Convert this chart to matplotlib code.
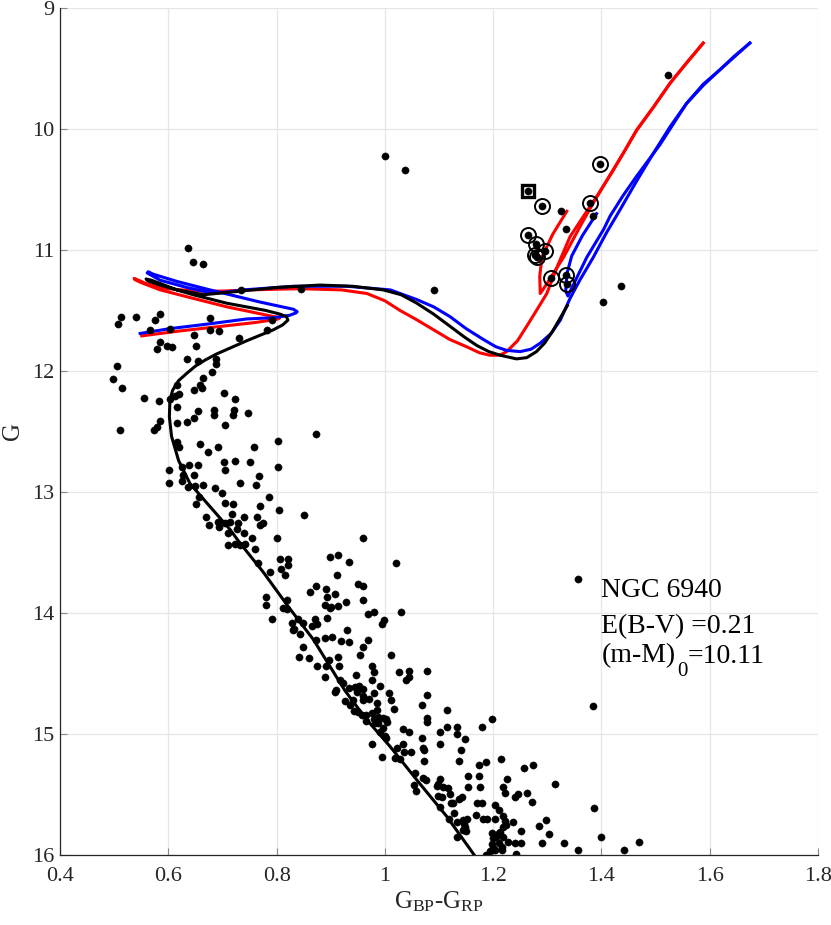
import numpy as np
import matplotlib
matplotlib.use('Agg')
import matplotlib.pyplot as plt

plt.rcParams['font.family'] = ['Liberation Serif', 'DejaVu Serif']
plt.rcParams['mathtext.fontset'] = 'custom'
plt.rcParams['mathtext.rm'] = 'Liberation Serif'
plt.rcParams['mathtext.it'] = 'Liberation Serif:italic'

# cluster members (BP-RP, G)
stars = np.array([
    (0.637,10.98),(0.645,11.10),(0.665,11.12),(0.734,11.33),(0.845,11.32),
    (0.513,11.55),(0.507,11.61),(0.540,11.55),(0.585,11.53),(0.575,11.58),(0.566,11.66),
    (0.604,11.65),(0.677,11.56),(0.677,11.66),(0.694,11.67),(0.648,11.70),(0.791,11.58),
    (0.782,11.66),(0.731,11.73),(0.585,11.76),(0.598,11.79),(0.607,11.80),(0.580,11.82),
    (0.652,11.79),(0.634,11.90),(0.655,11.92),(0.688,11.90),(0.688,11.94),(0.680,12.01),
    (0.505,11.96),(0.497,12.07),(0.515,12.14),(0.665,12.06),(0.616,12.12),(0.659,12.12),
    (0.648,12.16),(0.662,12.14),(0.619,12.19),(0.702,12.18),(0.723,12.23),(0.556,12.22),
    (0.583,12.25),(0.603,12.23),(0.612,12.21),(0.616,12.30),(0.655,12.33),(0.685,12.32),
    (0.685,12.36),(0.722,12.32),(0.720,12.36),(0.748,12.35),(0.634,12.42),(0.648,12.39),
    (0.616,12.43),(0.705,12.45),(0.585,12.41),(0.510,12.49),
    (0.579,12.46),(0.574,12.49),(0.616,12.59),(0.620,12.63),(0.659,12.60),(0.674,12.67),
    (0.691,12.63),(0.759,12.63),(0.802,12.58),(0.702,12.75),(0.705,12.82),(0.723,12.74),
    (0.751,12.75),(0.802,12.79),(0.601,12.82),(0.601,12.93),(0.625,12.79),(0.639,12.78),
    (0.655,12.78),(0.648,12.86),(0.628,12.86),(0.625,12.91),(0.637,12.96),(0.649,12.95),
    (0.665,12.94),(0.686,12.97),(0.700,13.01),(0.705,13.09),(0.719,13.10),(0.732,12.93),
    (0.762,12.94),(0.768,12.87),(0.786,13.04),(0.769,13.12),(0.805,13.15),(0.657,13.04),
    (0.651,13.10),(0.669,13.21),(0.675,13.27),(0.692,13.25),(0.694,13.29),(0.717,13.18),
    (0.714,13.25),(0.729,13.26),(0.740,13.21),(0.764,13.21),(0.769,13.27),(0.775,13.26),
    (0.705,13.26),(0.711,13.34),(0.726,13.31),(0.740,13.34),(0.754,13.38),(0.711,13.44),
    (0.723,13.43),(0.732,13.44),(0.742,13.43),(0.760,13.47),(0.800,13.38),(0.806,13.55),
    (0.822,13.55),
    (0.873,12.52),(0.851,13.19),(0.959,13.38),(0.899,13.54),(0.913,13.52),(0.934,13.58),
    (1.021,13.59),(0.911,13.69),(0.822,13.60),(0.809,13.64),(0.816,13.69),(0.788,13.66),
    (0.766,13.59),(0.872,13.78),(0.862,13.83),(0.891,13.80),(0.893,13.87),(0.908,13.84),
    (0.889,13.93),(0.900,13.95),(0.914,13.94),(0.928,13.91),(0.959,13.78),(0.951,13.76),
    (0.959,13.89),(1.030,13.99),(0.979,13.99),(0.968,14.01),(0.999,14.06),(0.994,14.09),
    (0.930,14.14),(0.894,14.04),(0.871,14.05),(0.865,14.11),(0.874,14.09),(0.820,13.89),
    (0.780,13.87),(0.780,13.93),(0.812,13.96),(0.819,13.97),(0.792,14.05),(0.828,14.08),
    (0.840,14.05),(0.849,14.08),(0.832,14.13),(0.843,14.17),(0.889,14.21),(0.902,14.20),
    (0.919,14.23),(0.933,14.24),(0.969,14.22),(0.959,14.28),(0.848,14.28),(0.872,14.22),
    (0.831,14.14),
    (0.899,13.96),(1.011,14.35),(0.954,14.35),(0.913,14.36),(0.896,14.39),(0.891,14.44),
    (0.916,14.44),(0.875,14.44),(0.889,14.53),(0.842,14.36),(0.859,14.37),(0.946,14.51),
    (0.976,14.44),(0.979,14.49),(0.976,14.55),(1.026,14.49),(1.044,14.48),(1.045,14.53),
    (1.039,14.55),(1.077,14.48),(0.991,14.60),(0.960,14.63),(0.979,14.66),(0.945,14.61),
    (0.948,14.65),(0.917,14.55),(0.923,14.58),(0.910,14.64),(0.926,14.73),(0.959,14.72),
    (0.971,14.71),(0.985,14.74),(1.008,14.66),(1.011,14.72),(1.016,14.79),(1.077,14.68),
    (1.068,14.76),(0.943,14.81),(0.951,14.82),(0.966,14.84),(0.976,14.83),(0.997,14.87),
    (0.953,14.60),(0.908,14.65),(0.933,14.62),(0.942,14.72),(0.960,14.69),(0.936,14.76),
    (0.988,14.86),(0.982,14.91),(1.003,14.88),(0.997,14.95),(1.000,15.02),(1.070,15.12),
    (0.957,14.84),(0.966,14.89),(0.979,14.88),(0.985,14.80),(0.988,14.91),(1.004,14.90),
    (0.991,14.98),(1.002,15.03),(0.976,15.08),(0.994,15.19),(1.114,14.80),(1.078,14.87),
    (1.078,14.90),(1.033,14.96),(1.045,14.98),(1.068,15.03),(1.101,14.98),(1.114,14.94),
    (1.133,14.94),(1.133,15.00),(1.148,15.04),(1.101,15.08),(1.180,14.94),(1.197,14.88),
    (1.034,15.08),(1.022,15.12),(1.019,15.20),(1.028,15.21),(1.036,15.15),(1.048,15.15),
    (1.073,15.13),(1.073,15.22),(1.141,15.13),(1.136,15.22),(1.174,15.26),(1.186,15.23),
    (1.215,15.21),(1.056,15.32),(1.071,15.36),(1.076,15.38),(1.053,15.42),(1.058,15.47),
    (1.096,15.43),(1.102,15.37),(1.107,15.44),(1.117,15.45),(1.154,15.35),(1.174,15.35),
    (1.154,15.44),(1.176,15.44),(1.225,15.37),(1.219,15.44),(1.240,15.52),(1.099,15.51),
    (1.105,15.52),(1.120,15.50),(1.126,15.57),(1.136,15.54),(1.142,15.52),(1.102,15.60),
    (1.128,15.65),(1.119,15.70),(1.133,15.73),(1.148,15.77),(1.151,15.70),(1.134,15.85),
    (1.170,15.57),(1.179,15.57),(1.168,15.67),(1.182,15.70),(1.188,15.70),(1.203,15.59),
    (1.211,15.63),(1.219,15.68),(1.203,15.70),(1.237,15.73),(1.197,15.82),(1.213,15.81),
    (1.219,15.77),(1.223,15.75),(1.206,15.85),(1.228,15.89),(1.240,15.90),(1.216,15.93),
    (1.197,15.91),(1.200,15.94),(1.194,15.97),(1.243,15.99),(1.187,16.00),
    (1.099,15.41),(1.122,15.57),(1.147,15.74),(1.144,15.79),(1.150,15.80),(1.221,15.72),
    (1.222,15.49),(1.200,15.86),(1.210,15.82),(1.219,15.85),(1.210,15.90),(1.216,15.96),
    (1.203,15.96),(1.251,15.90),(1.145,15.71),
    (1.385,14.77),(1.257,15.28),(1.273,15.26),(1.314,15.41),(1.245,15.50),(1.263,15.49),
    (1.271,15.56),(1.251,15.80),(1.285,15.76),(1.298,15.71),(1.304,15.83),(1.290,15.90),
    (1.331,15.90),(1.357,15.96),(1.387,15.61),(1.399,15.85),(1.442,15.96),(1.470,15.89),
    (1.357,13.72),(1.091,11.33),(1.000,10.22),(1.037,10.34),(1.523,9.55),
    (1.325,10.68),(1.385,10.72),(1.334,10.83),(1.436,11.30),(1.402,11.43),
    (1.397,10.29),(1.291,10.64),(1.379,10.61),(1.265,10.88),(1.279,10.95),(1.296,11.01),
    (1.277,11.04),(1.281,11.06),(1.306,11.23),(1.334,11.21),(1.336,11.28),(1.265,10.51),
])

# red giants flagged with circles, one with a square
circ_x = [1.397, 1.291, 1.379, 1.265, 1.279, 1.296, 1.277, 1.281, 1.306, 1.334, 1.336]
circ_y = [10.29, 10.64, 10.61, 10.88, 10.95, 11.01, 11.04, 11.06, 11.23, 11.21, 11.28]
sq_x = [1.265]
sq_y = [10.51]

# isochrones
blk_x = [1.165, 1.114, 1.059, 1.009, 0.966, 0.926, 0.868, 0.822, 0.775, 0.732, 0.714,
         0.671, 0.640, 0.619, 0.606, 0.602, 0.603, 0.608, 0.619, 0.634, 0.650, 0.668,
         0.689, 0.745, 0.794, 0.811, 0.821, 0.818, 0.806, 0.780, 0.708, 0.646, 0.585,
         0.562, 0.559, 0.569, 0.616, 0.665, 0.734, 0.800, 0.880, 0.940, 0.997, 1.030,
         1.059, 1.090, 1.120, 1.147, 1.170, 1.192, 1.213, 1.243, 1.262, 1.280, 1.295,
         1.310, 1.337]
blk_y = [16.00, 15.68, 15.38, 15.10, 14.88, 14.64, 14.22, 13.95, 13.66, 13.42, 13.31,
         13.09, 12.93, 12.74, 12.54, 12.38, 12.24, 12.16, 12.08, 12.02, 11.96, 11.91,
         11.86, 11.75, 11.66, 11.62, 11.58, 11.55, 11.53, 11.50, 11.44, 11.37, 11.29,
         11.255, 11.24, 11.25, 11.33, 11.37, 11.34, 11.31, 11.29, 11.30, 11.33, 11.37,
         11.44, 11.53, 11.63, 11.72, 11.79, 11.84, 11.87, 11.90, 11.89, 11.84, 11.77,
         11.67, 11.46]

blu_x = [0.548, 0.603, 0.677, 0.745, 0.794, 0.824, 0.836, 0.838, 0.831, 0.769, 0.677,
         0.616, 0.572, 0.563, 0.561, 0.585, 0.634, 0.683, 0.739, 0.831, 0.930, 1.010,
         1.059, 1.090, 1.120, 1.150, 1.182, 1.205, 1.225, 1.250, 1.270, 1.287, 1.307,
         1.324, 1.342, 1.360, 1.385, 1.409, 1.434, 1.465, 1.496, 1.527, 1.557, 1.588,
         1.619, 1.645, 1.674]
blu_y = [11.69, 11.65, 11.61, 11.57, 11.56, 11.54, 11.52, 11.51, 11.49, 11.43, 11.33,
         11.26, 11.20, 11.18, 11.19, 11.25, 11.31, 11.36, 11.33, 11.30, 11.30, 11.33,
         11.41, 11.47, 11.55, 11.65, 11.74, 11.80, 11.83, 11.84, 11.82, 11.77, 11.69,
         11.58, 11.40, 11.25, 11.06, 10.86, 10.67, 10.43, 10.20, 9.98, 9.79, 9.63,
         9.51, 9.40, 9.29]
blu_hb_x = [1.391, 1.365, 1.345, 1.336, 1.334, 1.338, 1.350, 1.373, 1.404, 1.416, 1.440,
            1.465, 1.508, 1.557, 1.588, 1.619, 1.674]
blu_hb_y = [10.70, 10.88, 11.05, 11.20, 11.34, 11.38, 11.27, 11.06, 10.83, 10.72, 10.55,
            10.39, 10.13, 9.79, 9.64, 9.51, 9.29]

red_x = [0.551, 0.620, 0.700, 0.760, 0.790, 0.803, 0.806, 0.794, 0.708, 0.646, 0.585,
         0.550, 0.538, 0.537, 0.545, 0.560, 0.600, 0.650, 0.700, 0.750, 0.843, 0.920,
         0.967, 1.000, 1.028, 1.060, 1.090, 1.120, 1.151, 1.175, 1.194, 1.212, 1.225,
         1.245, 1.262, 1.280, 1.299, 1.320, 1.342, 1.367, 1.391, 1.422, 1.443, 1.465,
         1.496, 1.527, 1.558, 1.588]
red_y = [11.71, 11.67, 11.63, 11.60, 11.58, 11.57, 11.56, 11.55, 11.47, 11.40, 11.33,
         11.27, 11.245, 11.235, 11.25, 11.28, 11.32, 11.34, 11.34, 11.33, 11.32, 11.33,
         11.36, 11.42, 11.50, 11.58, 11.66, 11.74, 11.80, 11.85, 11.87, 11.87, 11.84,
         11.75, 11.63, 11.50, 11.36, 11.12, 10.89, 10.72, 10.56, 10.34, 10.18, 10.01,
         9.82, 9.62, 9.45, 9.29]
red_hb_x = [1.336, 1.310, 1.290, 1.286, 1.287, 1.299, 1.330, 1.360, 1.385, 1.420, 1.443,
            1.465, 1.496, 1.527, 1.558, 1.588]
red_hb_y = [10.68, 10.87, 11.06, 11.22, 11.36, 11.28, 11.06, 10.81, 10.61, 10.35, 10.18,
            10.01, 9.82, 9.62, 9.45, 9.29]

fig = plt.figure(figsize=(8.31, 9.25), dpi=100)
ax = fig.add_axes([0.0722, 0.0757, 0.9122, 0.9157])

lw = 2.2
ax.plot(red_x, red_y, color='#ff0000', lw=lw)
ax.plot(red_hb_x, red_hb_y, color='#ff0000', lw=lw)
ax.plot(blu_x, blu_y, color='#0000ff', lw=lw)
ax.plot(blu_hb_x, blu_hb_y, color='#0000ff', lw=lw)
ax.plot(blk_x, blk_y, color='black', lw=lw)

ax.plot(stars[:, 0], stars[:, 1], 'o', color='black', ms=5.2, mec='black', mew=0.3)
ax.plot(circ_x, circ_y, 'o', mfc='none', mec='black', ms=10.8, mew=1.4)
ax.plot(sq_x, sq_y, 's', mfc='none', mec='black', ms=9, mew=2.4)

ax.text(1.400, 13.87, 'NGC 6940', fontsize=20)
ax.text(1.400, 14.17, 'E(B-V) =0.21', fontsize=20)
t1 = ax.text(1.400, 14.41, '(m-M)', fontsize=20)
t2 = ax.annotate('0', xy=(1.0, 14.41), xycoords=(t1, 'data'),
                 xytext=(1, -10), textcoords='offset points', fontsize=15, va='baseline')
ax.annotate('=10.11', xy=(1.0, 14.41), xycoords=(t2, 'data'),
            xytext=(0, 0), textcoords='offset points', fontsize=20, va='baseline')

ax.set_xlim(0.4, 1.8)
ax.set_ylim(16, 9)
ax.set_xticks([0.4, 0.6, 0.8, 1.0, 1.2, 1.4, 1.6, 1.8])
ax.set_xticklabels(['0.4', '0.6', '0.8', '1', '1.2', '1.4', '1.6', '1.8'])
ax.set_yticks(range(9, 17))
ax.grid(True, color='#e6e6e6', lw=0.9)
ax.set_axisbelow(True)
for s in ['top', 'right']:
    ax.spines[s].set_visible(False)
for s in ['left', 'bottom']:
    ax.spines[s].set_color('#262626')
    ax.spines[s].set_linewidth(0.9)
ax.tick_params(direction='in', length=5, width=0.8, color='#888888',
               labelsize=16, labelcolor='#262626')
ax.tick_params(axis='x', pad=9)
ax.tick_params(axis='y', pad=4)
ax.set_xlabel(r'G$_{\rm BP}$-G$_{\rm RP}$', fontsize=18, color='#262626', labelpad=2)
ax.set_ylabel('G', fontsize=18, color='#262626', labelpad=6)

fig.savefig('out.png', dpi=100)
